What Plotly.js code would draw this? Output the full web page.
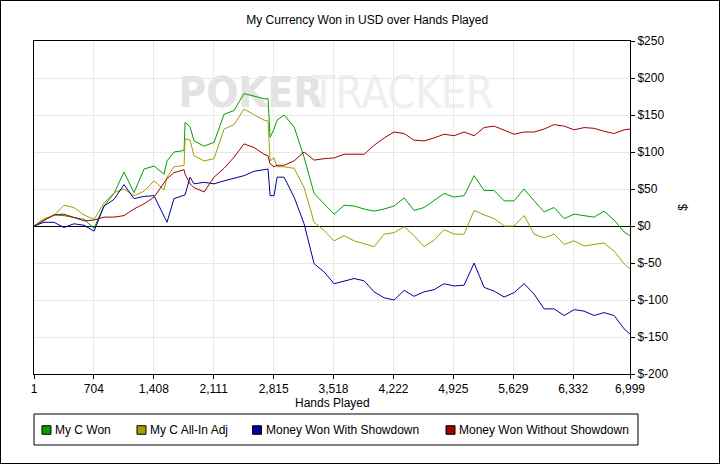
<!DOCTYPE html>
<html>
<head>
<meta charset="utf-8">
<script src="https://cdn.plot.ly/plotly-3.0.1.min.js"></script>
<style>
  body { margin: 0; background: #fff; }
  #chart { width: 718px; height: 462px; border: 1px solid #000; }
</style>
</head>
<body>
<div id="chart"></div>
<script>
// hands played (x) and cumulative USD won per series
var hands = [1, 118, 236, 353, 471, 588, 706, 823, 941, 1058,
    1175, 1293, 1410, 1528, 1563, 1645, 1763, 1775, 1833, 1880,
    1998, 2115, 2233, 2350, 2467, 2585, 2702, 2749, 2773, 2820,
    2855, 2937, 3055, 3172, 3290, 3407, 3525, 3642, 3759, 3877,
    3994, 4112, 4229, 4347, 4464, 4581, 4699, 4816, 4934, 5051,
    5169, 5286, 5404, 5521, 5638, 5756, 5873, 5991, 6108, 6226,
    6343, 6460, 6578, 6695, 6813, 6930, 6999]

var myCWon = [0, 7, 15, 14, 11, 9, -3, 27, 44, 73,
    45, 77, 81, 70, 88, 100, 102, 140, 134, 115,
    108, 113, 151, 156, 179, 175, 172, 172, 120, 131,
    143, 150, 134, 93, 44, 30, 16, 28, 27, 23,
    20, 23, 27, 38, 21, 25, 34, 44, 39, 41,
    68, 48, 48, 34, 34, 50, 34, 19, 25, 10,
    16, 14, 12, 20, 8, -8, -13]

var myCAllInAdj = [0, 10, 14, 28, 25, 15, 9, 31, 45, 50,
    41, 47, 61, 49, 66, 80, 82, 118, 116, 95,
    88, 91, 131, 137, 158, 151, 143, 142, 88, 92,
    80, 80, 78, 52, 5, -6, -20, -13, -20, -24,
    -28, -11, -9, -1, -13, -28, -19, -5, -11, -11,
    21, 15, 10, 0, 0, 14, -11, -16, -11, -25,
    -20, -27, -25, -23, -34, -51, -58]

var wonWithShowdown = [0, 5, 5, -2, 3, 1, -7, 27, 36, 56,
    37, 40, 41, 14, 5, 37, 41, 42, 66, 57,
    59, 57, 61, 64, 68, 74, 76, 77, 41, 41,
    66, 66, 39, 3, -51, -62, -78, -75, -71, -74,
    -89, -97, -100, -87, -95, -89, -86, -78, -81, -80,
    -50, -83, -88, -96, -90, -78, -92, -112, -112, -121,
    -113, -115, -121, -117, -121, -139, -146]

var wonWithoutShowdown = [0, 7, 15, 16, 12, 7, 8, 12, 12, 14,
    23, 30, 39, 59, 64, 72, 76, 70, 57, 52,
    46, 66, 78, 93, 111, 106, 97, 95, 84, 80,
    82, 82, 88, 100, 89, 91, 92, 97, 97, 97,
    109, 119, 127, 125, 116, 115, 119, 124, 122, 127,
    122, 133, 135, 130, 124, 127, 127, 131, 137, 135,
    130, 133, 132, 128, 125, 130, 131]

var names = ['My C Won', 'My C All-In Adj', 'Money Won With Showdown', 'Money Won Without Showdown']
var colores = ['#00a000', '#a0a000', '#0000a0', '#a00000']

var xTickVals = [1, 704, 1408, 2111, 2815, 3518, 4222, 4925, 5629, 6332, 6999]
var xTickText = ['1', '704', '1,408', '2,111', '2,815', '3,518', '4,222', '4,925', '5,629', '6,332', '6,999']
var yTickVals = [-200, -150, -100, -50, 0, 50, 100, 150, 200, 250]
var yTickText = ['$-200', '$-150', '$-100', '$-50', '$0', '$50', '$100', '$150', '$200', '$250']

var series = [myCWon, myCAllInAdj, wonWithShowdown, wonWithoutShowdown]
var fuente = 'Liberation Sans, Arial, sans-serif'
var fuenteMarca = 'Liberation Sans Narrow, DejaVu Sans Condensed, Liberation Sans'

var data = []
series.forEach((s, i) => {
    data.push({
        x: hands,
        y: s,
        mode: 'lines',
        type: 'scatter',
        name: names[i],
        showlegend: false,
        line: { color: colores[i], width: 1 }
    })
})

// leyenda a mano: cuadrito + texto, posiciones en fraccion del area del grafico
var legX = [0.0134, 0.1728, 0.3666, 0.6913]
var legY = -0.1682
var shapes = [{
    type: 'rect', xref: 'paper', yref: 'paper',
    x0: 0, x1: 1.0134, y0: -0.2132, y1: -0.1201,
    line: { color: '#000', width: 1 }, fillcolor: 'rgba(0,0,0,0)'
}]
var annotations = []
names.forEach((n, i) => {
    shapes.push({
        type: 'rect', xref: 'paper', yref: 'paper',
        x0: legX[i], x1: legX[i] + 0.0151, y0: legY - 0.0128, y1: legY + 0.0128,
        line: { color: '#000', width: 1 }, fillcolor: colores[i]
    })
    annotations.push({
        xref: 'paper', yref: 'paper', x: legX[i] + 0.0185, y: legY,
        xanchor: 'left', yanchor: 'middle', showarrow: false,
        text: n, font: { family: fuente, size: 12, color: '#000' }
    })
})

// titulo del eje x
annotations.push({
    xref: 'paper', yref: 'paper', x: 0.5, y: -0.087,
    xanchor: 'center', yanchor: 'middle', showarrow: false,
    text: 'Hands Played', font: { family: fuente, size: 12, color: '#000' }
})

// marca de agua
shapes.push({
    type: 'rect', xref: 'paper', yref: 'paper', layer: 'below',
    x0: 0.2517, x1: 0.4748, y0: 0.8018, y1: 0.9069,
    line: { width: 0 }, fillcolor: 'rgba(0,0,0,0)',
    label: { text: '<b>POKER</b>', textposition: 'middle center',
        font: { family: fuenteMarca, size: 42, color: '#e3e3e3' } }
})
shapes.push({
    type: 'rect', xref: 'paper', yref: 'paper', layer: 'below',
    x0: 0.4815, x1: 0.755, y0: 0.8018, y1: 0.9069,
    line: { width: 0 }, fillcolor: 'rgba(0,0,0,0)',
    label: { text: 'TRACKER', textposition: 'middle center',
        font: { family: fuenteMarca, size: 44, color: '#efefef' } }
})

var layout = {
    width: 718,
    height: 462,
    margin: { l: 33, r: 89, t: 40, b: 89 },
    paper_bgcolor: '#fff',
    plot_bgcolor: 'rgba(0,0,0,0)',
    font: { family: fuente, size: 12, color: '#000' },
    showlegend: false,
    title: {
        text: 'My Currency Won in USD over Hands Played',
        font: { family: fuente, size: 12, color: '#000' },
        xref: 'container', x: 0.51,
        yref: 'container', y: 0.959, yanchor: 'middle'
    },
    xaxis: {
        range: [1, 6999],
        tickmode: 'array',
        tickvals: xTickVals,
        ticktext: xTickText,
        ticks: 'outside', ticklen: 4, tickcolor: '#000',
        showline: true, linecolor: '#000', linewidth: 1, mirror: true,
        showgrid: true, gridcolor: '#e8e8e8',
        zeroline: false
    },
    yaxis: {
        side: 'right',
        range: [-200, 250],
        tickmode: 'array',
        tickvals: yTickVals,
        ticktext: yTickText,
        ticks: 'outside', ticklen: 4, tickcolor: '#000',
        showline: true, linecolor: '#000', linewidth: 1, mirror: true,
        showgrid: true, gridcolor: '#e8e8e8',
        zeroline: true, zerolinecolor: '#000', zerolinewidth: 1,
        title: { text: '$', standoff: 11, font: { size: 12 } }
    },
    shapes: shapes,
    annotations: annotations
}

Plotly.newPlot('chart', data, layout, { displayModeBar: false, staticPlot: true })
</script>
</body>
</html>
